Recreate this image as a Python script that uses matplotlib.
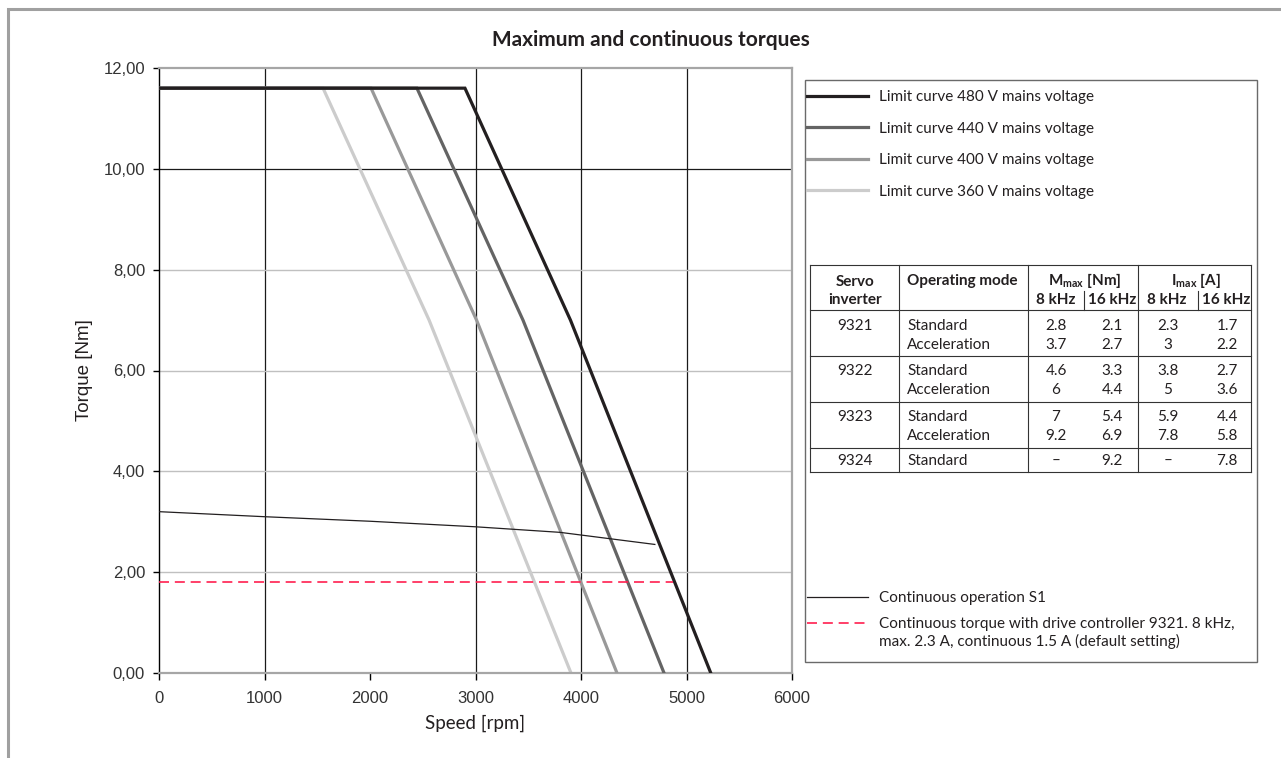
import matplotlib
matplotlib.use("Agg")
import matplotlib.pyplot as plt
from matplotlib.patches import Rectangle

plt.rcParams['font.family'] = ['Lato', 'DejaVu Sans']
plt.rcParams['mathtext.fontset'] = 'custom'
plt.rcParams['mathtext.rm'] = 'Lato'
plt.rcParams['mathtext.bf'] = 'Lato:bold'

# limit curves, speed [rpm] / torque [Nm]
speed_480 = [0, 2900, 3900, 5230]
torque_480 = [11.6, 11.6, 7.0, 0.0]
speed_440 = [0, 2445, 3450, 4787]
torque_440 = [11.6, 11.6, 7.0, 0.0]
speed_400 = [0, 2010, 3010, 4341]
torque_400 = [11.6, 11.6, 7.0, 0.0]
speed_360 = [0, 1555, 2560, 3905]
torque_360 = [11.6, 11.6, 7.0, 0.0]

# continuous operation S1
speed_s1 = [0, 1000, 2000, 3000, 3800, 4700]
torque_s1 = [3.2, 3.1, 3.01, 2.9, 2.79, 2.55]

# continuous torque with 9321 controller
speed_9321 = [0, 4870]
torque_9321 = [1.81, 1.81]

x_ticks = [0, 1000, 2000, 3000, 4000, 5000, 6000]
y_ticks = [0, 2, 4, 6, 8, 10, 12]
y_tick_labels = ['0,00', '2,00', '4,00', '6,00', '8,00', '10,00', '12,00']
grid_x = [1000, 3000, 4000, 5000]
grid_y_dark = [10]
grid_y_light = [2, 4, 6, 8]

limit_labels = ['Limit curve 480 V mains voltage', 'Limit curve 440 V mains voltage',
                'Limit curve 400 V mains voltage', 'Limit curve 360 V mains voltage']
s1_label = 'Continuous operation S1'
ctrl_label = 'Continuous torque with drive controller 9321. 8 kHz,'
ctrl_label_2 = 'max. 2.3 A, continuous 1.5 A (default setting)'

# servo inverter table
inverters = ['9321', '', '9322', '', '9323', '', '9324']
modes = ['Standard', 'Acceleration', 'Standard', 'Acceleration',
         'Standard', 'Acceleration', 'Standard']
m_8khz = ['2.8', '3.7', '4.6', '6', '7', '9.2', '\u2013']
m_16khz = ['2.1', '2.7', '3.3', '4.4', '5.4', '6.9', '9.2']
i_8khz = ['2.3', '3', '3.8', '5', '5.9', '7.8', '\u2013']
i_16khz = ['1.7', '2.2', '2.7', '3.6', '4.4', '5.8', '7.8']

W, H = 1281, 758
fig = plt.figure(figsize=(W / 100, H / 100), dpi=100)
ax = fig.add_axes([159 / W, 85 / H, 633 / W, 605 / H])

txt = '#231f20'

for g in grid_x:
    ax.axvline(g, color='#1a1a1a', lw=0.9, zorder=1)
for g in grid_y_dark:
    ax.axhline(g, color='#1a1a1a', lw=0.9, zorder=1)
for g in grid_y_light:
    ax.axhline(g, color='#c0c0c0', lw=1.0, zorder=1)

l360, = ax.plot(speed_360, torque_360, color='#cccccc', lw=2.3, zorder=2, solid_joinstyle='miter')
l400, = ax.plot(speed_400, torque_400, color='#999999', lw=2.3, zorder=3, solid_joinstyle='miter')
l440, = ax.plot(speed_440, torque_440, color='#646464', lw=2.3, zorder=4, solid_joinstyle='miter')
l480, = ax.plot(speed_480, torque_480, color='#231f20', lw=2.3, zorder=5, solid_joinstyle='miter')
ls1, = ax.plot(speed_s1, torque_s1, color='#231f20', lw=0.9, zorder=6)
lc, = ax.plot(speed_9321, torque_9321, color='#ff1f4f', lw=1.2, ls=(0, (6, 3.5)), zorder=6)

ax.set_xlim(0, 6000)
ax.set_ylim(0, 12)
ax.set_xticks(x_ticks, labels=[str(v) for v in x_ticks], fontfamily='Liberation Sans')
ax.set_yticks(y_ticks, labels=y_tick_labels, fontfamily='Liberation Sans')
ax.tick_params(axis='x', direction='out', length=5, width=1, color='black',
               pad=8, labelsize=12, labelcolor='#333333')
ax.tick_params(axis='y', direction='out', length=4, width=1, color='black',
               pad=6, labelsize=12, labelcolor='#333333')
ax.spines['left'].set_color('black')
ax.spines['left'].set_linewidth(1.0)
for s in ['top', 'right', 'bottom']:
    ax.spines[s].set_color('#a6a6a6')
    ax.spines[s].set_linewidth(1.6)

ax.set_xlabel('Speed [rpm]', fontsize=13.5, color=txt, labelpad=6)
ax.set_ylabel('Torque [Nm]', fontsize=13.5, color=txt, labelpad=7.5, fontfamily='Liberation Sans')

# overlay in pixel coordinates for frame, legend box and table
ov = fig.add_axes([0, 0, 1, 1], zorder=3)
ov.set_xlim(0, W)
ov.set_ylim(H, 0)
ov.axis('off')
ov.patch.set_alpha(0)

ov.plot([7.5, 7.5, W], [H, 9, 9], color='#a0a0a0', lw=2.2, solid_joinstyle='miter')
ov.text(651, 40, 'Maximum and continuous torques', ha='center', va='center',
        fontsize=15, fontweight='bold', color=txt)

ov.add_patch(Rectangle((805, 80), 452, 582, fill=False, edgecolor='#6a6a6a', lw=1.0))

leg1 = fig.legend([l480, l440, l400, l360], limit_labels, loc='upper left',
                  bbox_to_anchor=(807, 90), bbox_transform=ov.transData,
                  frameon=False, fontsize=11, handlelength=4.0, handletextpad=0.7,
                  labelspacing=1.15, borderpad=0, borderaxespad=0, labelcolor=txt)
leg2 = fig.legend([ls1, lc], [s1_label, ctrl_label], loc='upper left',
                  bbox_to_anchor=(807, 591), bbox_transform=ov.transData,
                  frameon=False, fontsize=11, handlelength=4.0, handletextpad=0.7,
                  labelspacing=0.8, borderpad=0, borderaxespad=0, labelcolor=txt)
ov.text(879, 641, ctrl_label_2, ha='left', va='center', fontsize=11, color=txt)

# table rules
tab_cols = [810, 899, 1028, 1138, 1251]
tab_rows = [265, 310, 356, 402, 448, 472]
for y in tab_rows:
    ov.plot([tab_cols[0], tab_cols[-1]], [y, y], color='#333333', lw=0.8)
for x in tab_cols:
    ov.plot([x, x], [tab_rows[0], tab_rows[-1]], color='#333333', lw=0.8)
for x in [1084, 1198]:
    ov.plot([x, x], [291, 310], color='#333333', lw=0.8)

hd = dict(fontsize=11, fontweight='bold', color=txt, va='baseline')
ov.text(855, 286.5, 'Servo', ha='center', **hd)
ov.text(855, 304, 'inverter', ha='center', **hd)
ov.text(907, 285, 'Operating mode', ha='left', **hd)
ov.text(1085, 285, r'$\mathbf{M}_{\mathbf{max}}$ [Nm]', ha='center', **hd)
ov.text(1196, 285, r'$\mathbf{I}_{\mathbf{max}}$ [A]', ha='center', **hd)
for cx, lab in zip([1056, 1112, 1167, 1226], ['8 kHz', '16 kHz', '8 kHz', '16 kHz']):
    ov.text(cx, 304, lab, ha='center', **hd)

row_base = [330.5, 349, 375, 394, 421, 440, 465]
bd = dict(fontsize=11, color=txt, va='baseline')
for i, yb in enumerate(row_base):
    ov.text(855, yb, inverters[i], ha='center', **bd)
    ov.text(907, yb, modes[i], ha='left', **bd)
    ov.text(1056, yb, m_8khz[i], ha='center', **bd)
    ov.text(1112, yb, m_16khz[i], ha='center', **bd)
    ov.text(1168, yb, i_8khz[i], ha='center', **bd)
    ov.text(1227, yb, i_16khz[i], ha='center', **bd)

fig.savefig('out.png', dpi=100, facecolor='white')
